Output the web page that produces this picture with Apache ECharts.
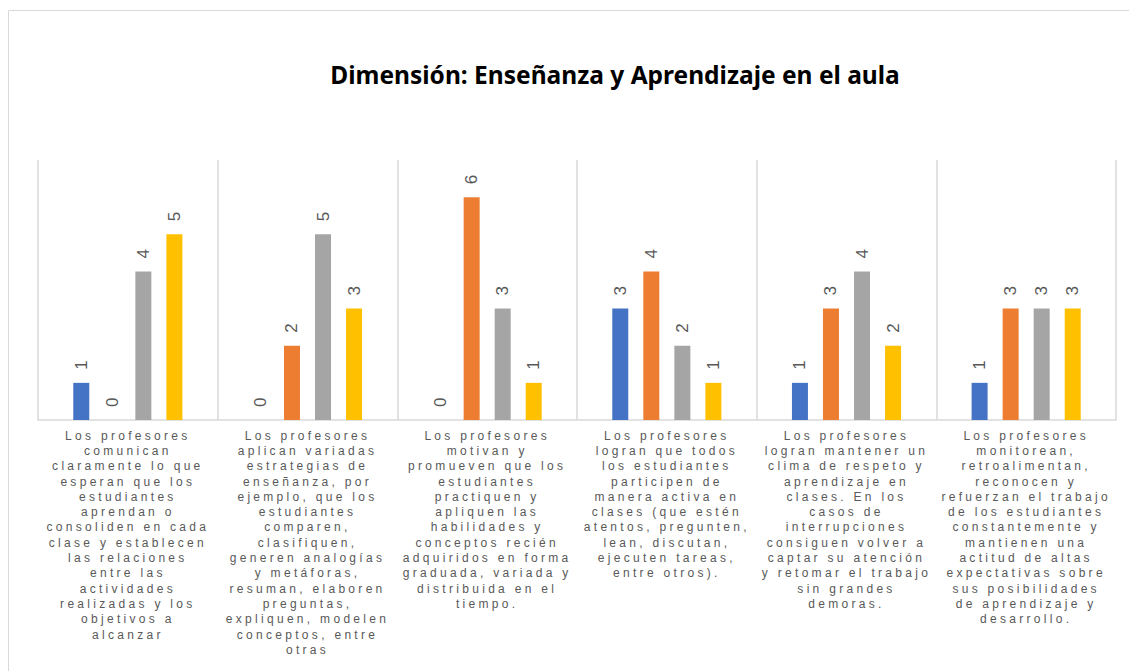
<!DOCTYPE html>
<html>
<head>
<meta charset="utf-8">
<script src="https://cdn.jsdelivr.net/npm/echarts@6/dist/echarts.min.js"></script>
<style>
  html, body { margin: 0; padding: 0; background: #fff; }
  #chart { width: 1129px; height: 671px; }
  /* letter spacing of the category labels (svg renderer) */
  #chart svg text[style*="12px"] { letter-spacing: 3.3px; }
</style>
</head>
<body>
<div id="chart"></div>
<script>
// categorías (etiquetas del eje x, con sus saltos de línea)
const categories = [
  'Los profesores\ncomunican\nclaramente lo que\nesperan que los\nestudiantes\naprendan o\nconsoliden en cada\nclase y establecen\nlas relaciones\nentre las\nactividades\nrealizadas y los\nobjetivos a\nalcanzar',
  'Los profesores\naplican variadas\nestrategias de\nenseñanza, por\nejemplo, que los\nestudiantes\ncomparen,\nclasifiquen,\ngeneren analogías\ny metáforas,\nresuman, elaboren\npreguntas,\nexpliquen, modelen\nconceptos, entre\notras',
  'Los profesores\nmotivan y\npromueven que los\nestudiantes\npractiquen y\napliquen las\nhabilidades y\nconceptos recién\nadquiridos en forma\ngraduada, variada y\ndistribuida en el\ntiempo.',
  'Los profesores\nlogran que todos\nlos estudiantes\nparticipen de\nmanera activa en\nclases (que estén\natentos, pregunten,\nlean, discutan,\nejecuten tareas,\nentre otros).',
  'Los profesores\nlogran mantener un\nclima de respeto y\naprendizaje en\nclases. En los\ncasos de\ninterrupciones\nconsiguen volver a\ncaptar su atención\ny retomar el trabajo\nsin grandes\ndemoras.',
  'Los profesores\nmonitorean,\nretroalimentan,\nreconocen y\nrefuerzan el trabajo\nde los estudiantes\nconstantemente y\nmantienen una\nactitud de altas\nexpectativas sobre\nsus posibilidades\nde aprendizaje y\ndesarrollo.'
];
const serie1 = [1, 0, 0, 3, 1, 1];
const serie2 = [0, 2, 6, 4, 3, 3];
const serie3 = [4, 5, 3, 2, 4, 3];
const serie4 = [5, 3, 1, 1, 2, 3];

const colors = ['#4472C4', '#ED7D31', '#A5A5A5', '#FFC000'];
const seriesData = [serie1, serie2, serie3, serie4];

const chart = echarts.init(document.getElementById('chart'), null, { renderer: 'svg' });

const option = {
  animation: false,
  // marco del gráfico
  graphic: [{
    type: 'rect',
    shape: { x: 8.5, y: 10.5, width: 1200, height: 700 },
    style: { fill: 'none', stroke: '#D9D9D9', lineWidth: 1 },
    silent: true
  }],
  title: {
    text: 'Dimensión: Enseñanza y Aprendizaje en el aula',
    left: 610, top: 57, textAlign: 'center',
    textStyle: { fontFamily: 'Noto Sans', fontWeight: 'bold', fontSize: 24.5, color: '#000' }
  },
  grid: { left: 38, right: 13, top: 160, bottom: 251 },
  xAxis: {
    type: 'category',
    data: categories,
    axisLine: { lineStyle: { color: '#D9D9D9', width: 1.5 } },
    axisTick: { show: false },
    splitLine: { show: true, lineStyle: { color: '#D9D9D9', width: 1.5 } },
    axisLabel: {
      interval: 0, margin: 8, color: '#595959',
      fontFamily: 'Liberation Sans', fontSize: 12, lineHeight: 15.3
    }
  },
  yAxis: { type: 'value', min: 0, max: 7, show: false, splitLine: { show: false } },
  series: seriesData.map((d, i) => ({
    type: 'bar',
    name: 'Serie ' + (i + 1),
    data: d,
    barWidth: 16,
    barGap: '94%',
    itemStyle: { color: colors[i] },
    label: {
      show: true, position: 'top', rotate: 90, align: 'left', verticalAlign: 'middle',
      distance: 13, color: '#595959', fontFamily: 'Liberation Sans', fontSize: 17
    }
  }))
};

chart.setOption(option);
</script>
</body>
</html>
